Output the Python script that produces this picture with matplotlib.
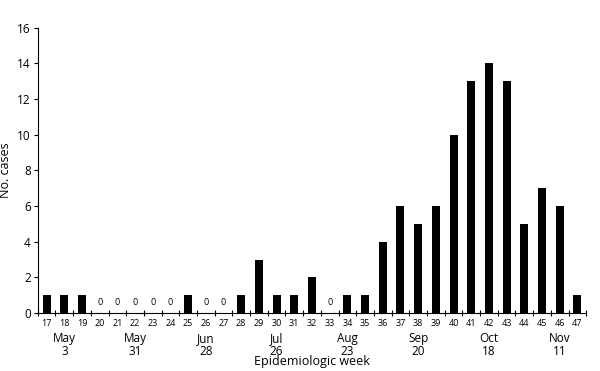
import matplotlib.pyplot as plt
import numpy as np

weeks = list(range(17, 48))
cases = [1, 1, 1, 0, 0, 0, 0, 0, 1, 0, 0, 1, 3, 1, 1, 2, 0, 1, 1, 4,
         6, 5, 6, 10, 13, 14, 13, 5, 7, 6, 1]
month_weeks = [18, 22, 26, 30, 34, 38, 42, 46]
month_labels = ['May\n3', 'May\n31', 'Jun\n28', 'Jul\n26', 'Aug\n23',
                'Sep\n20', 'Oct\n18', 'Nov\n11']

plt.rcParams['font.family'] = ['Open Sans', 'DejaVu Sans']

fig = plt.figure(figsize=(6, 3.71), dpi=100)
ax = fig.add_axes([0.063, 0.156, 0.914, 0.769])

ax.bar(weeks, cases, width=0.45, color='black')
for w, c in zip(weeks, cases):
    if c == 0:
        ax.text(w, 0.35, '0', ha='center', va='bottom', fontsize=6.5)

ax.set_xlim(16.5, 47.5)
ax.set_ylim(0, 16)
ax.set_yticks(np.arange(0, 17, 2))
ax.tick_params(axis='y', labelsize=8.5, length=3, width=0.8, pad=2)

# ticks between bars, labels under bars
ax.set_xticks(np.arange(16.5, 48, 1))
ax.set_xticklabels([])
ax.set_xticks(weeks, minor=True)
ax.set_xticklabels([str(w) for w in weeks], minor=True, fontsize=6.5)
ax.tick_params(axis='x', which='major', direction='inout', length=5, width=0.8)
ax.tick_params(axis='x', which='minor', length=0, pad=4)

tr = ax.get_xaxis_transform()
for w, lab in zip(month_weeks, month_labels):
    ax.text(w, -0.065, lab, transform=tr, ha='center', va='top',
            fontsize=8.5, linespacing=1.0)

ax.set_xlabel('Epidemiologic week', fontsize=9)
ax.xaxis.set_label_coords(0.5, -0.148)
ax.set_ylabel('No. cases', fontsize=9, labelpad=4)

ax.spines['top'].set_visible(False)
ax.spines['right'].set_visible(False)
for s in ['left', 'bottom']:
    ax.spines[s].set_linewidth(0.8)

fig.savefig('out.png', dpi=100)
